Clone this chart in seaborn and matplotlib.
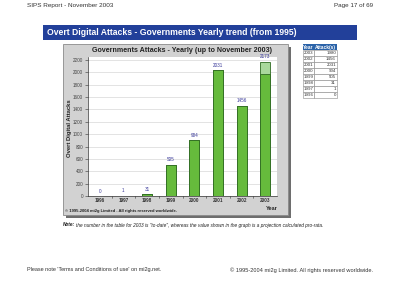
import matplotlib
matplotlib.use("Agg")
import matplotlib.pyplot as plt
from matplotlib.patches import Rectangle
import seaborn as sns
import pandas as pd
import numpy as np

years = ["1996", "1997", "1998", "1999", "2000", "2001", "2002", "2003"]
attacks = [0, 1, 31, 505, 904, 2031, 1456, 1980]
projected = [0, 1, 31, 505, 904, 2031, 1456, 2173]
bar_labels = ["0", "1", "31", "505", "904", "2031", "1456", "2173"]
table_years = ["2003", "2002", "2001", "2000", "1999", "1998", "1997", "1996"]
table_attacks = ["1980", "1456", "2031", "904", "505", "31", "1", "0"]
yticks = list(range(0, 2201, 200))

sns.set_theme(style="white")
plt.rcParams['font.family'] = ['Liberation Sans', 'DejaVu Sans']

W, H = 400, 283
fig = plt.figure(figsize=(4.0, 2.83), dpi=100)
fig.patch.set_facecolor("white")

def fx(x): return x / W
def fy(y): return 1 - y / H

def frect(x0, y0, x1, y1, **kw):
    r = Rectangle((fx(x0), fy(y1)), fx(x1) - fx(x0), fy(y0) - fy(y1),
                  transform=fig.transFigure, figure=fig, **kw)
    fig.patches.append(r)

# page header / footer
fig.text(fx(27), fy(5), "SIPS Report - November 2003", fontsize=4.6, color="#333333", va="center", ha="left")
fig.text(fx(373), fy(5), "Page 17 of 69", fontsize=4.5, color="#333333", va="center", ha="right")
fig.text(fx(27), fy(270), "Please note 'Terms and Conditions of use' on mi2g.net.", fontsize=4.0, color="#333333", va="center", ha="left")
fig.text(fx(373), fy(270), "\u00a9 1995-2004 mi2g Limited. All rights reserved worldwide.", fontsize=4.1, color="#333333", va="center", ha="right")

# banner
frect(43, 25.5, 357, 39.5, facecolor="#22409a", edgecolor="none", zorder=0)
fig.text(fx(47), fy(32.5), "Overt Digital Attacks - Governments Yearly trend (from 1995)",
         fontsize=6.2, fontweight="bold", color="white", va="center", ha="left")

# grey chart panel with shadow
frect(66, 47, 291, 218, facecolor="#6e6e6e", edgecolor="none", zorder=0)
frect(63, 44, 288, 215, facecolor="#d2d2d2", edgecolor="#8a8a8a", linewidth=0.6, zorder=0.5)
fig.text(fx(182), fy(50), "Governments Attacks - Yearly (up to November 2003)",
         fontsize=5.1, fontweight="bold", color="#222222", va="center", ha="center")
fig.text(fx(65), fy(211), "\u00a9 1995-2004 mi2g Limited . All rights reserved worldwide.",
         fontsize=3.0, fontweight="bold", color="#222222", va="center", ha="left")
fig.text(fx(272), fy(209), "Year", fontsize=4.0, fontweight="bold", color="#222222", va="center", ha="center")
fig.text(fx(70), fy(128), "Overt Digital Attacks", fontsize=4.2, fontweight="bold", color="#222222",
         rotation=90, va="center", ha="center")

# note
fig.text(fx(63), fy(225), "Note:", fontsize=3.45, fontweight="bold", fontstyle="italic", color="#222222", va="center", ha="left")
fig.text(fx(75.5), fy(225), "the number in the table for 2003 is \"to-date\", whereas the value shown in the graph is a projection calculated pro-rata.",
         fontsize=3.45, fontstyle="italic", color="#222222", va="center", ha="left")

# axes
ax = fig.add_axes([fx(88), fy(196), fx(277) - fx(88), fy(57) - fy(196)])
ax.set_zorder(3)
ax.set_facecolor("white")
df = pd.DataFrame({"year": years, "attacks": attacks, "projected": projected})
sns.barplot(data=df, x="year", y="projected", ax=ax, color="#a9d89c", width=0.42,
            edgecolor="#2f6a22", linewidth=0.6, saturation=1, zorder=2)
sns.barplot(data=df, x="year", y="attacks", ax=ax, color="#66bb3c", width=0.42,
            edgecolor="#2f6a22", linewidth=0.6, saturation=1, zorder=3)
for i, (v, lab) in enumerate(zip(projected, bar_labels)):
    ax.text(i, v + 40, lab, fontsize=3.3, color="#3a3a9a", ha="center", va="bottom", zorder=4)

ax.set_ylim(0, 2248)
ax.set_xlim(-0.5, len(years) - 0.5)
ax.set_yticks(yticks)
ax.set_yticklabels([str(t) for t in yticks], fontsize=3.3, color="#444444")
ax.set_xticks(range(len(years)))
ax.set_xticklabels(years, fontsize=3.3, color="#333333", fontweight="bold")
ax.set_xlabel("")
ax.set_ylabel("")
ax.yaxis.grid(True, color="#d8d8d8", linewidth=0.5, zorder=0)
ax.set_axisbelow(True)
ax.tick_params(axis="y", length=2, width=0.4, pad=1.5, color="#333333", left=True)
ax.tick_params(axis="x", length=0, pad=1.5)
for x in np.arange(0.5, len(years) - 0.5, 1):
    ax.plot([x, x], [0, -25], color="#333333", lw=0.4, clip_on=False)
for s in ["top", "right"]:
    ax.spines[s].set_visible(False)
for s in ["left", "bottom"]:
    ax.spines[s].set_color("#333333")
    ax.spines[s].set_linewidth(0.5)

# table
tx0, tx1, tx2 = 302.5, 314, 337
ty0, rh = 44.5, 5.9
frect(tx0, ty0, tx2, ty0 + rh, facecolor="#2b63a8", edgecolor="none", zorder=1)
fig.text(fx((tx0 + tx1) / 2), fy(ty0 + rh / 2), "Year", fontsize=3.5, fontweight="bold", color="white", ha="center", va="center")
fig.text(fx((tx1 + tx2) / 2), fy(ty0 + rh / 2), "Attack(s)", fontsize=3.5, fontweight="bold", color="white", ha="center", va="center")
for i, (ty, ta) in enumerate(zip(table_years, table_attacks)):
    y0 = ty0 + rh * (i + 1)
    frect(tx0, y0, tx1, y0 + rh, facecolor="white", edgecolor="#888888", linewidth=0.4, zorder=1)
    frect(tx1, y0, tx2, y0 + rh, facecolor="white", edgecolor="#888888", linewidth=0.4, zorder=1)
    fig.text(fx(tx0 + 1), fy(y0 + rh / 2), ty, fontsize=3.2, color="#333333", ha="left", va="center")
    fig.text(fx(tx2 - 1), fy(y0 + rh / 2), ta, fontsize=3.2, color="#333333", ha="right", va="center")

fig.savefig("out.png", dpi=100, facecolor="white")
